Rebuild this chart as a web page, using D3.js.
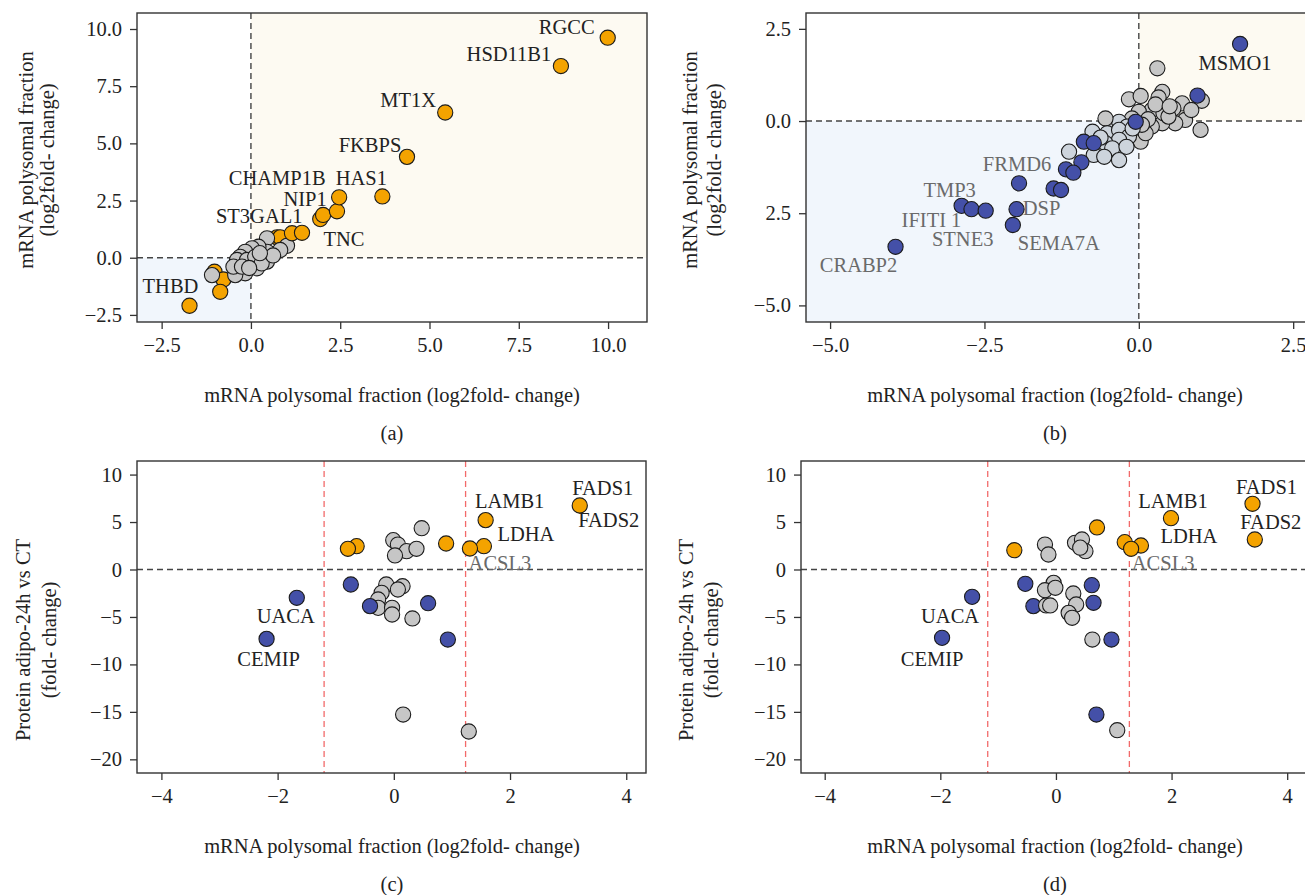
<!DOCTYPE html>
<html><head><meta charset="utf-8">
<script src="https://cdn.jsdelivr.net/npm/d3@7"></script>
<style>body{margin:0;background:#fff}svg{display:block}</style>
</head><body>
<svg id="chart" width="1305" height="895"></svg>
<script>
// ---------- DATA ----------
// Panel (a)
const aX = [-1.02,-0.77,-0.86, 0.73, 0.82, 0.45,1.01,0.82,0.45,0.21,0.03,-0.16,-0.30,-0.39,-0.11,0.12,0.45,0.17,-0.16,-0.44,-0.49,-0.25,-1.09,0.30,0.62,-0.05,0.25, 1.15,1.43,1.94,2.02,2.41,2.47,3.68,4.37,5.44,8.68,9.99,-1.72];
const aY = [-0.61,-0.95,-1.49, 0.89, 0.89, 0.85,0.52,0.34,0.26,0.48,0.41,0.26,0.04,-0.10,-0.10,0.04,-0.17,-0.46,-0.68,-0.76,-0.39,-0.39,-0.76,-0.25,0.10,-0.45,0.20, 1.07,1.09,1.69,1.87,2.03,2.64,2.68,4.41,6.35,8.38,9.62,-2.10];
const aG = ["o","o","o","o","o","g","g","g","g","g","g","g","g","g","g","g","g","g","g","g","g","g","g","g","g","g","g","o","o","o","o","o","o","o","o","o","o","o","o"];
const aLabels = [["TNC",28],["ST3GAL1",29],["NIP1",30],["CHAMP1B",32],["HAS1",33],["FKBPS",34],["MT1X",35],["HSD11B1",36],["RGCC",37],["THBD",38]];

// Panel (b)
const bX = [0.30,1.00,-0.16,0.03,0.38,0.32,0.70,0.56,0.75,0.59,0.38,0.21,0.11,0.21,0.40,0.00,-0.11,-0.32,-0.54,0.00,0.03,0.11,-0.19,1.02,0.48,0.15,0.27,0.85,0.50,0.05,
  -0.75,-0.51,-0.32,-0.16,-0.32,-0.54,-0.43,-0.73,-0.56,-0.32,-1.13,-0.20,-0.62,-0.10,
  1.64,0.95,-0.05,-0.89,-0.73,-0.93,-1.18,-1.06,-1.38,-1.26,-1.94,-1.98,-2.04,-2.87,-2.71,-2.48,-3.94];
const bY = [1.43,-0.24,0.59,0.68,0.79,0.64,0.48,0.34,0.03,-0.06,-0.06,-0.15,0.16,0.30,0.21,0.25,0.07,-0.02,0.07,-0.38,-0.56,-0.33,-0.15,0.55,0.12,0.05,0.45,0.30,0.40,-0.10,
  -0.29,-0.33,-0.24,-0.42,-0.51,-0.60,-0.74,-0.92,-0.97,-1.06,-0.83,-0.70,-0.45,-0.20,
  2.09,0.69,-0.02,-0.56,-0.60,-1.12,-1.31,-1.40,-1.83,-1.87,-1.69,-2.39,-2.82,-2.30,-2.39,-2.43,-3.41];
const bG = Array(44).fill("g").concat(Array(17).fill("b"));
const bLabels = [["MSMO1",44],["FRMD6",54],["DSP",55],["SEMA7A",56],["TMP3",57],["IFITI 1",58],["STNE3",59],["CRABP2",60]];

// Panel (c)
const cX = [0.48,-0.01,0.07,0.22,0.39,0.02,-0.13,0.15,0.07,-0.21,-0.27,-0.27,-0.03,-0.03,0.32,0.16,1.29,
  -1.67,-2.19,-0.74,-0.41,0.59,0.93,
  3.20,1.58,1.55,1.31,0.90,-0.64,-0.79];
const cY = [4.35,3.09,2.63,1.93,2.18,1.48,-1.58,-1.76,-2.11,-2.46,-3.16,-4.04,-4.04,-4.74,-5.16,-15.28,-17.07,
  -2.98,-7.31,-1.58,-3.86,-3.55,-7.38,
  6.74,5.20,2.46,2.21,2.74,2.46,2.18];
const cG = Array(17).fill("g").concat(Array(6).fill("b")).concat(Array(7).fill("o"));
const cLabels = [["UACA",17],["CEMIP",18],["FADS1",23],["FADS2",23],["LAMB1",24],["LDHA",25],["ACSL3",26]];

// Panel (d)
const dX = [-1.45,-1.97,-0.53,-0.39,0.62,0.65,0.96,0.70,
  -0.19,-0.13,0.33,0.45,0.51,0.42,-0.04,-0.19,-0.01,-0.17,-0.10,0.30,0.35,0.22,0.28,0.63,1.06,
  3.40,3.44,1.99,0.71,-0.72,1.19,1.47,1.30];
const dY = [-2.88,-7.20,-1.51,-3.86,-1.65,-3.51,-7.38,-15.28,
  2.63,1.58,2.81,3.16,1.93,2.30,-1.41,-2.18,-1.93,-3.79,-3.79,-2.53,-3.69,-4.57,-5.09,-7.38,-16.93,
  6.92,3.16,5.41,4.43,2.03,2.88,2.53,2.18];
const dG = Array(8).fill("b").concat(Array(17).fill("g")).concat(Array(8).fill("o"));
const dLabels = [["UACA",0],["CEMIP",1],["FADS1",25],["FADS2",26],["LAMB1",27],["LDHA",31],["ACSL3",32]];

// Tick values / labels
const abTicksX = [-2.5,0,2.5,5,7.5,10];
const abTickLabelsX = ["−2.5","0.0","2.5","5.0","7.5","10.0"];
const aTicksY = [-2.5,0,2.5,5,7.5,10];
const aTickLabelsY = ["−2.5","0.0","2.5","5.0","7.5","10.0"];
const bTicksX = [-5,-2.5,0,2.5];
const bTickLabelsX = ["−5.0","−2.5","0.0","2.5"];
const bTicksY = [2.5,0,-2.5,-5];
const bTickLabelsY = ["2.5","0.0","2.5","−5.0"];
const cdTicksX = [-4,-2,0,2,4];
const cdTickLabelsX = ["−4","−2","0","2","4"];
const cdTicksY = [10,5,0,-5,-10,-15,-20];
const cdTickLabelsY = ["10","5","0","−5","−10","−15","−20"];
const cThresholds = [-1.20, 1.235];
const dThresholds = [-1.18, 1.27];

// ---------- STYLE ----------
const FONT = "'Liberation Serif','DejaVu Serif',serif";
const FS = 20.5;
const COL = {o:"#f4a300", g:"#c6c6c6", b:"#4450a8", lg:"#cdd4dc"};
const svg = d3.select("#chart");

const labelOffsets = {
  a:{RGCC:[-41,-11],HSD11B1:[-52,-12],MT1X:[-37,-12],FKBPS:[-37,-12],HAS1:[-21,-18],CHAMP1B:[-62,-19],NIP1:[-18,-16],ST3GAL1:[-61,-3],TNC:[42,6],THBD:[-19,-20]},
  b:{MSMO1:[-5,19],FRMD6:[-2,-19],TMP3:[-12,-16],"IFITI 1":[-40,11],STNE3:[-23,28],DSP:[25,-1],SEMA7A:[46,18],CRABP2:[-37,18]},
  c:{FADS1:[23,-18],FADS2:[29,14],LAMB1:[24,-19],LDHA:[42,-12],ACSL3:[30,14],UACA:[-11,18],CEMIP:[2,20]},
  d:{FADS1:[14,-17],FADS2:[16,-17],LAMB1:[2,-17],LDHA:[48,-9],ACSL3:[32,14],UACA:[-22,19],CEMIP:[-10,21]}
};
const greyLabels = new Set(["FRMD6","TMP3","IFITI 1","STNE3","DSP","SEMA7A","CRABP2","ACSL3"]);

function panel(cfg){
  const g = svg.append("g");
  const x = d3.scaleLinear().domain(cfg.xd).range([cfg.L, cfg.R]);
  const y = d3.scaleLinear().domain(cfg.yd).range([cfg.B, cfg.T]);
  const clipId = "clip" + cfg.key;
  g.append("clipPath").attr("id", clipId).append("rect")
    .attr("x", cfg.L).attr("y", cfg.T).attr("width", cfg.R - cfg.L).attr("height", cfg.B - cfg.T);
  const inner = g.append("g").attr("clip-path", `url(#${clipId})`);
  if (cfg.shade){
    inner.append("rect").attr("x", x(0)).attr("y", cfg.T).attr("width", cfg.R - x(0)).attr("height", y(0) - cfg.T).attr("fill", "#fdfaf2");
    inner.append("rect").attr("x", cfg.L).attr("y", y(0)).attr("width", x(0) - cfg.L).attr("height", cfg.B - y(0)).attr("fill", "#f1f6fc");
  }
  inner.append("line").attr("x1", cfg.L).attr("x2", cfg.R).attr("y1", y(0)).attr("y2", y(0))
    .attr("stroke", "#444").attr("stroke-width", 1.4).attr("stroke-dasharray", "6,4");
  if (cfg.shade){
    inner.append("line").attr("x1", x(0)).attr("x2", x(0)).attr("y1", cfg.T).attr("y2", cfg.B)
      .attr("stroke", "#444").attr("stroke-width", 1.4).attr("stroke-dasharray", "6,4");
  }
  (cfg.thr || []).forEach(t => {
    inner.append("line").attr("x1", x(t)).attr("x2", x(t)).attr("y1", cfg.T).attr("y2", cfg.B)
      .attr("stroke", "#f26a6a").attr("stroke-width", 1.3).attr("stroke-dasharray", "6,4");
  });
  const pts = cfg.px.map((v,i) => ({x:v, y:cfg.py[i], g:cfg.pg[i]}));
  inner.selectAll("circle.pt").data(pts).enter().append("circle")
    .attr("cx", d => x(d.x)).attr("cy", d => y(d.y)).attr("r", 7.6)
    .attr("fill", d => (d.g === "g" && cfg.lightLL && d.x < 0 && d.y < 0) ? COL.lg : COL[d.g])
    .attr("stroke", "#1b1b1b").attr("stroke-width", 1.1);
  const offs = labelOffsets[cfg.key];
  g.selectAll("text.lab").data(cfg.labels).enter().append("text")
    .attr("x", d => x(cfg.px[d[1]]) + offs[d[0]][0])
    .attr("y", d => y(cfg.py[d[1]]) + offs[d[0]][1])
    .attr("text-anchor", "middle").attr("dominant-baseline", "central")
    .attr("font-family", FONT).attr("font-size", FS)
    .attr("fill", d => greyLabels.has(d[0]) ? "#6a6a6a" : "#222")
    .text(d => d[0]);
  g.append("rect").attr("x", cfg.L).attr("y", cfg.T).attr("width", cfg.R - cfg.L).attr("height", cfg.B - cfg.T)
    .attr("fill", "none").attr("stroke", "#333").attr("stroke-width", 1.4);
  const xa = g.append("g").attr("transform", `translate(0,${cfg.B})`)
    .call(d3.axisBottom(x).tickValues(cfg.xt).tickFormat((d,i) => cfg.xtl[i]).tickSize(7).tickPadding(8));
  const ya = g.append("g").attr("transform", `translate(${cfg.L},0)`)
    .call(d3.axisLeft(y).tickValues(cfg.yt).tickFormat((d,i) => cfg.ytl[i]).tickSize(7).tickPadding(8));
  [xa, ya].forEach(a => {
    a.select(".domain").remove();
    a.selectAll("line").attr("stroke", "#333").attr("stroke-width", 1.3);
    a.selectAll("text").attr("font-family", FONT).attr("font-size", FS).attr("fill", "#222");
  });
  const cx = cfg.titleX;
  g.append("text").attr("x", cx).attr("y", cfg.B + 73).attr("text-anchor", "middle").attr("dominant-baseline", "central")
    .attr("font-family", FONT).attr("font-size", FS).attr("fill", "#222").text(cfg.xTitle);
  g.append("text").attr("x", cx).attr("y", cfg.B + 111).attr("text-anchor", "middle").attr("dominant-baseline", "central")
    .attr("font-family", FONT).attr("font-size", FS).attr("fill", "#222").text(cfg.tag);
  cfg.yTitle.forEach((t,i) => {
    g.append("text").attr("transform", `translate(${cfg.yTitleX[i]},${cfg.yTitleY}) rotate(-90)`)
      .attr("text-anchor", "middle").attr("dominant-baseline", "central")
      .attr("font-family", FONT).attr("font-size", FS).attr("fill", "#222").text(t);
  });
}

const xTitle = "mRNA polysomal fraction (log2fold- change)";
panel({key:"a", L:137, R:647, T:13, B:322, xd:[-3.19,11.09], yd:[-2.81,10.7], shade:true,
  px:aX, py:aY, pg:aG, labels:aLabels, xt:abTicksX, xtl:abTickLabelsX, yt:aTicksY, ytl:aTickLabelsY,
  titleX:392, xTitle:xTitle, tag:"(a)", yTitle:["mRNA polysomal fraction","(log2fold- change)"], yTitleX:[26,47], yTitleY:160});
panel({key:"b", L:806, R:1308, T:13, B:322, xd:[-5.39,2.74], yd:[-5.45,2.93], shade:true, lightLL:true,
  px:bX, py:bY, pg:bG, labels:bLabels, xt:bTicksX, xtl:bTickLabelsX, yt:bTicksY, ytl:bTickLabelsY,
  titleX:1055, xTitle:xTitle, tag:"(b)", yTitle:["mRNA polysomal fraction","(log2fold- change)"], yTitleX:[690,714], yTitleY:160});
panel({key:"c", L:137, R:646, T:461, B:773, xd:[-4.42,4.34], yd:[-21.44,11.43], thr:cThresholds,
  px:cX, py:cY, pg:cG, labels:cLabels, xt:cdTicksX, xtl:cdTickLabelsX, yt:cdTicksY, ytl:cdTickLabelsY,
  titleX:392, xTitle:xTitle, tag:"(c)", yTitle:["Protein adipo-24h vs CT","(fold- change)"], yTitleX:[23,49], yTitleY:640});
panel({key:"d", L:801, R:1308, T:461, B:773, xd:[-4.41,4.36], yd:[-21.44,11.43], thr:dThresholds,
  px:dX, py:dY, pg:dG, labels:dLabels, xt:cdTicksX, xtl:cdTickLabelsX, yt:cdTicksY, ytl:cdTickLabelsY,
  titleX:1055, xTitle:xTitle, tag:"(d)", yTitle:["Protein adipo-24h vs CT","(fold- change)"], yTitleX:[686,711], yTitleY:640});
</script>
</body></html>
